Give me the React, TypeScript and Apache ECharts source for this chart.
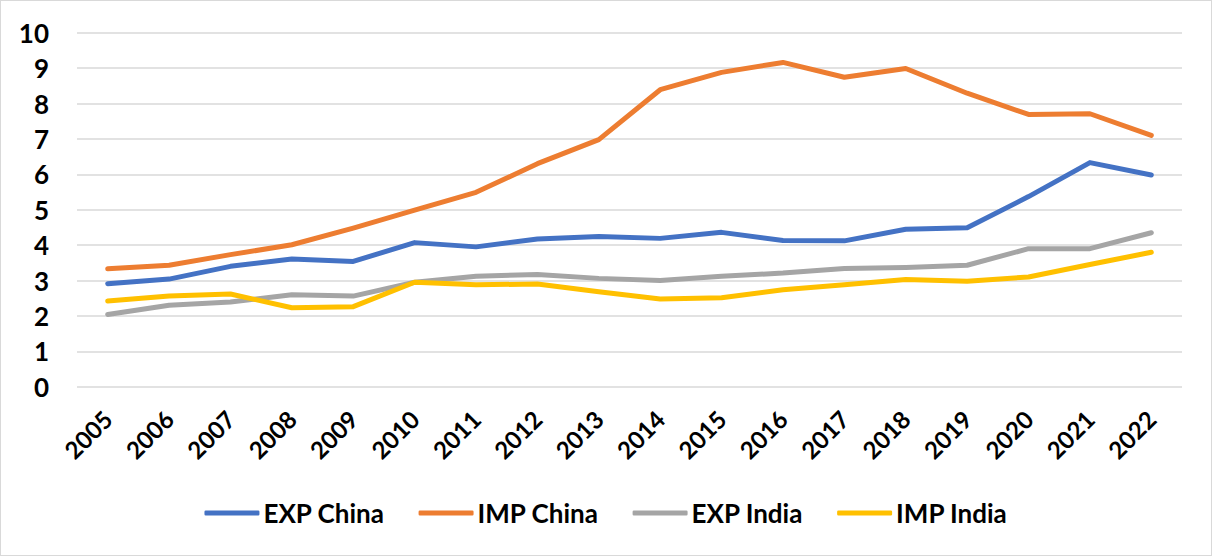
import React, { useEffect, useRef } from "react";
import * as echarts from "echarts";

const years = ["2005","2006","2007","2008","2009","2010","2011","2012","2013","2014","2015","2016","2017","2018","2019","2020","2021","2022"];
const expChina = [2.91,3.04,3.40,3.61,3.54,4.07,3.95,4.17,4.24,4.19,4.36,4.13,4.12,4.45,4.49,5.37,6.33,5.98];
const impChina = [3.33,3.43,3.73,4.01,4.48,4.99,5.49,6.30,6.98,8.39,8.88,9.16,8.74,8.99,8.29,7.69,7.71,7.10];
const expIndia = [2.04,2.30,2.39,2.60,2.56,2.95,3.12,3.17,3.06,3.00,3.12,3.21,3.34,3.37,3.43,3.90,3.90,4.35];
const impIndia = [2.42,2.56,2.62,2.23,2.26,2.95,2.88,2.90,2.68,2.48,2.51,2.74,2.88,3.03,2.98,3.10,3.45,3.80];

const seriesNames = ["EXP China", "IMP China", "EXP India", "IMP India"];
const colors = ["#4472C4", "#ED7D31", "#A5A5A5", "#FFC000"];

const FONT = "Lato, 'Open Sans', sans-serif";

export default function App() {
  const ref = useRef<HTMLDivElement>(null);
  useEffect(() => {
    if (!ref.current) return;
    const chart = echarts.init(ref.current, undefined, { renderer: "svg" });
    const data = [expChina, impChina, expIndia, impIndia];
    chart.setOption({
      animation: false,
      color: colors,
      grid: { left: 76, right: 29, top: 31.7, bottom: 168.3, containLabel: false },
      legend: {
        bottom: 24,
        left: "center",
        icon: "roundRect",
        itemWidth: 55,
        itemHeight: 5,
        itemGap: 34,
        textStyle: { fontFamily: FONT, fontWeight: "bold", fontSize: 26, color: "#000", padding: [0, 0, 0, -1] },
        data: seriesNames,
      },
      xAxis: {
        type: "category",
        data: years,
        boundaryGap: true,
        axisLine: { show: false },
        axisTick: { show: false },
        axisLabel: {
          rotate: 45,
          margin: 28,
          fontFamily: FONT,
          fontWeight: "bold",
          fontSize: 24,
          color: "#000",
          interval: 0,
        },
      },
      yAxis: {
        type: "value",
        min: 0,
        max: 10,
        interval: 1,
        axisLine: { show: false },
        axisTick: { show: false },
        splitLine: { lineStyle: { color: "#D9D9D9", width: 1.5 } },
        axisLabel: {
          margin: 28,
          fontFamily: FONT,
          fontWeight: "bold",
          fontSize: 26,
          color: "#000",
        },
      },
      series: seriesNames.map((name, i) => ({
        name,
        type: "line",
        data: data[i],
        symbol: "none",
        smooth: false,
        lineStyle: { width: 5, color: colors[i], cap: "round", join: "round" },
        itemStyle: { color: colors[i] },
      })),
    });
    return () => chart.dispose();
  }, []);
  return (
    <div
      style={{
        position: "absolute",
        left: 0,
        top: 0,
        width: 1212,
        height: 556,
        boxSizing: "border-box",
        border: "1px solid #D9D9D9",
        background: "#fff",
      }}
    >
      <div ref={ref} style={{ width: 1210, height: 554 }} />
    </div>
  );
}
